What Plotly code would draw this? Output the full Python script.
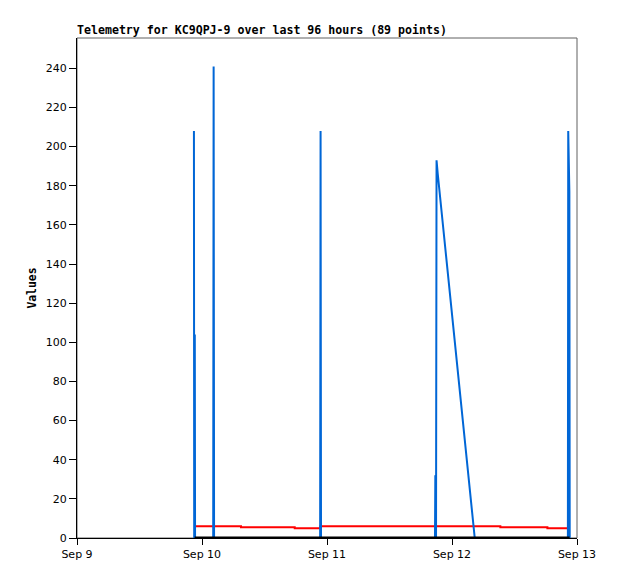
import plotly.graph_objects as go

TITLE = "Telemetry for KC9QPJ-9 over last 96 hours (89 points)"
Y_TITLE = "Values"

# Blue series (spiky value)
blue_times = [
    "2023-09-09 22:27", "2023-09-09 22:30", "2023-09-09 22:37", "2023-09-09 22:40",
    "2023-09-10 02:09", "2023-09-10 02:14", "2023-09-10 02:19",
    "2023-09-10 22:41", "2023-09-10 22:46", "2023-09-10 22:51",
    "2023-09-11 20:44", "2023-09-11 20:48", "2023-09-11 20:52",
    "2023-09-11 20:56", "2023-09-11 21:02", "2023-09-11 21:16",
    "2023-09-12 04:22",
    "2023-09-12 22:15", "2023-09-12 22:19", "2023-09-12 22:32", "2023-09-12 22:36",
]
blue_values = [
    208, 0, 104, 0,
    0, 241, 0,
    0, 208, 0,
    0, 32, 0,
    0, 193, 186,
    0,
    0, 208, 177, 0,
]

# Red series (stepped value)
red_times = [
    "2023-09-09 22:50", "2023-09-10 07:29", "2023-09-10 17:48",
    "2023-09-10 22:43", "2023-09-12 09:17", "2023-09-12 18:19",
    "2023-09-12 22:20",
]
red_values = [6.0, 5.5, 5.0, 6.0, 5.5, 5.0, 5.0]

# Black series (zero)
black_times = ["2023-09-09 22:35", "2023-09-12 22:35"]
black_values = [0, 0]

x_tick_vals = ["2023-09-09", "2023-09-10", "2023-09-11", "2023-09-12", "2023-09-13"]
x_tick_text = ["Sep 9", "Sep 10", "Sep 11", "Sep 12", "Sep 13"]
y_tick_vals = [0, 20, 40, 60, 80, 100, 120, 140, 160, 180, 200, 220, 240]

W, H = 610, 571

fig = go.Figure()
fig.add_trace(go.Scatter(x=red_times, y=red_values, mode="lines",
                         line=dict(color="#ff0000", width=2, shape="hv"),
                         showlegend=False, hoverinfo="skip"))
fig.add_trace(go.Scatter(x=blue_times, y=blue_values, mode="lines",
                         line=dict(color="#0066d6", width=2),
                         showlegend=False, hoverinfo="skip"))
fig.add_trace(go.Scatter(x=black_times, y=black_values, mode="lines",
                         line=dict(color="#000000", width=3),
                         showlegend=False, hoverinfo="skip"))

fig.add_shape(type="rect", xref="paper", yref="paper", x0=0, x1=1, y0=0, y1=1,
              line=dict(color="#606060", width=1), layer="below")

fig.update_layout(
    width=W, height=H,
    margin=dict(l=69, r=41, t=30, b=41),
    paper_bgcolor="white", plot_bgcolor="white",
    font=dict(family="DejaVu Sans", size=11, color="#000000"),
    title=dict(text="<b>" + TITLE + "</b>", x=69/W, xref="container", xanchor="left",
               y=1 - 22/H, yref="container", yanchor="middle",
               font=dict(family="DejaVu Sans Mono", size=11.6, color="#000000")),
    xaxis=dict(type="date", range=["2023-09-09", "2023-09-13"],
               tickmode="array", tickvals=x_tick_vals, ticktext=x_tick_text,
               showgrid=False, zeroline=False, showline=True, linecolor="#000000",
               linewidth=1, ticks="outside", ticklen=6, tickcolor="#000000",
               tickfont=dict(family="DejaVu Sans", size=11)),
    yaxis=dict(range=[0, 255.5], tickmode="array", tickvals=y_tick_vals,
               showgrid=False, zeroline=False, showline=True, linecolor="#000000",
               linewidth=1, ticks="outside", ticklen=7, tickcolor="#000000",
               tickfont=dict(family="DejaVu Sans", size=11),
               title=dict(text="<b>" + Y_TITLE + "</b>", standoff=6,
                          font=dict(family="DejaVu Sans Mono", size=11.4))),
)

fig.write_html("out.html")
